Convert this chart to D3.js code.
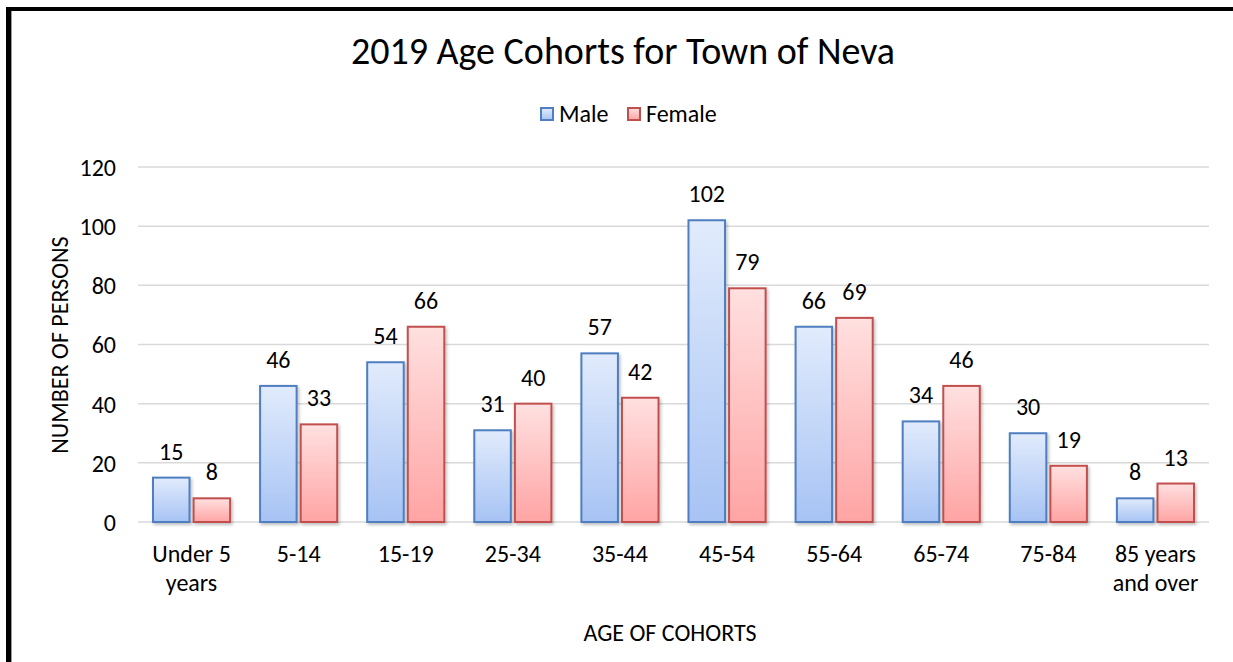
<!DOCTYPE html>
<html>
<head>
<meta charset="utf-8">
<script src="https://cdn.jsdelivr.net/npm/d3@7"></script>
<style>
  body { margin: 0; background: #fff; }
  svg { display: block; font-family: Carlito, Calibri, Lato, sans-serif; }
</style>
</head>
<body>
<div id="chart"></div>
<script>
// chart data
var cohorts = [["Under 5", "years"], ["5-14"], ["15-19"], ["25-34"], ["35-44"], ["45-54"], ["55-64"], ["65-74"], ["75-84"], ["85 years", "and over"]]
var male = [15, 46, 54, 31, 57, 102, 66, 34, 30, 8]
var female = [8, 33, 66, 40, 42, 79, 69, 46, 19, 13]
var yTicks = [0, 20, 40, 60, 80, 100, 120]
var seriesNames = ["Male", "Female"]

let width = 1233,
    height = 662

var plot = {left: 138, right: 1209, top: 167, bottom: 522}

var svg = d3.select("#chart")
  .append("svg")
    .attr("width", width)
    .attr("height", height)

// frame like the original picture
svg.append("rect").attr("x", 6).attr("y", 7).attr("width", width).attr("height", 4).attr("fill", "#000")
svg.append("rect").attr("x", 6).attr("y", 7).attr("width", 5).attr("height", height).attr("fill", "#000")
svg.append("rect").attr("x", 11).attr("y", 11).attr("width", 1).attr("height", height).attr("fill", "#999")

// gradients for bars
var defs = svg.append("defs")
var grads = [["gMale", "#e1ebfc", "#a7c3f4"], ["gFemale", "#ffe0e0", "#ffa4a4"]]
grads.forEach(function(g) {
  var lg = defs.append("linearGradient").attr("id", g[0]).attr("x1", 0).attr("y1", 0).attr("x2", 0).attr("y2", 1)
  lg.append("stop").attr("offset", "0%").attr("stop-color", g[1])
  lg.append("stop").attr("offset", "100%").attr("stop-color", g[2])
})
var shadow = defs.append("filter").attr("id", "shadow").attr("x", "-20%").attr("y", "-20%").attr("width", "140%").attr("height", "140%")
shadow.append("feDropShadow").attr("dx", 1.5).attr("dy", 2).attr("stdDeviation", 1.5).attr("flood-color", "#000").attr("flood-opacity", 0.25)

var fills = ["url(#gMale)", "url(#gFemale)"]
var strokes = ["#4f7fc0", "#c0504d"]

// scales
var x0 = d3.scaleBand()
  .domain(d3.range(cohorts.length))
  .range([plot.left, plot.right])
  .paddingInner(0.28)
  .paddingOuter(0.14)

var x1 = d3.scaleBand()
  .domain([0, 1])
  .range([0, x0.bandwidth()])
  .paddingInner(0.1)

var y = d3.scaleLinear()
  .domain([0, 120])
  .range([plot.bottom, plot.top])

// gridlines
svg.append("g")
  .selectAll("line")
  .data(yTicks)
  .enter()
  .append("line")
    .attr("x1", plot.left)
    .attr("x2", plot.right)
    .attr("y1", function(d) { return y(d) })
    .attr("y2", function(d) { return y(d) })
    .attr("stroke", "#d9d9d9")
    .attr("stroke-width", 1.5)

// y axis labels
var yAxis = svg.append("g")
  .attr("transform", "translate(" + (plot.left - 22) + ",0)")
  .call(d3.axisLeft(y).tickValues(yTicks).tickSize(0).tickPadding(0))
yAxis.select(".domain").remove()
yAxis.selectAll("text")
  .attr("font-size", 24)
  .attr("font-family", "Carlito, Calibri, Lato, sans-serif")
  .attr("fill", "#000")
  .attr("dy", "0.35em")

// bars
var groups = svg.append("g")
  .selectAll("g")
  .data(cohorts.map(function(c, i) { return [male[i], female[i]] }))
  .enter()
  .append("g")
    .attr("transform", function(d, i) { return "translate(" + x0(i) + ",0)" })

groups.selectAll("rect")
  .data(function(d) { return d })
  .enter()
  .append("rect")
    .attr("x", function(d, j) { return x1(j) })
    .attr("y", function(d) { return y(d) })
    .attr("width", x1.bandwidth())
    .attr("height", function(d) { return y(0) - y(d) })
    .attr("fill", function(d, j) { return fills[j] })
    .attr("stroke", function(d, j) { return strokes[j] })
    .attr("stroke-width", 2)
    .attr("filter", "url(#shadow)")

groups.selectAll("text")
  .data(function(d) { return d })
  .enter()
  .append("text")
    .attr("x", function(d, j) { return x1(j) + x1.bandwidth() / 2 })
    .attr("y", function(d) { return y(d) - 18 })
    .attr("text-anchor", "middle")
    .attr("font-size", 24)
    .text(function(d) { return d })

// x axis labels
var xl = svg.append("g")
  .selectAll("text")
  .data(cohorts)
  .enter()
  .append("text")
    .attr("x", function(d, i) { return x0(i) + x0.bandwidth() / 2 })
    .attr("y", 562)
    .attr("text-anchor", "middle")
    .attr("font-size", 24)

xl.selectAll("tspan")
  .data(function(d) { return d })
  .enter()
  .append("tspan")
    .attr("x", function() { return d3.select(this.parentNode).attr("x") })
    .attr("dy", function(d, k) { return k == 0 ? 0 : 29 })
    .text(function(d) { return d })

// titles
svg.append("text")
  .attr("x", 623)
  .attr("y", 64)
  .attr("text-anchor", "middle")
  .attr("font-size", 38)
  .text("2019 Age Cohorts for Town of Neva")

svg.append("text")
  .attr("x", 670)
  .attr("y", 641)
  .attr("text-anchor", "middle")
  .attr("font-size", 24)
  .text("AGE OF COHORTS")

svg.append("text")
  .attr("transform", "translate(68,345) rotate(-90)")
  .attr("text-anchor", "middle")
  .attr("font-size", 24)
  .text("NUMBER OF PERSONS")

// legend
var legend = svg.append("g")
var legendX = [541, 628]
seriesNames.forEach(function(name, i) {
  legend.append("rect")
    .attr("x", legendX[i])
    .attr("y", 108)
    .attr("width", 12)
    .attr("height", 12)
    .attr("fill", fills[i])
    .attr("stroke", strokes[i])
    .attr("stroke-width", 2)
  legend.append("text")
    .attr("x", legendX[i] + 18)
    .attr("y", 122)
    .attr("font-size", 24)
    .text(name)
})
</script>
</body>
</html>
